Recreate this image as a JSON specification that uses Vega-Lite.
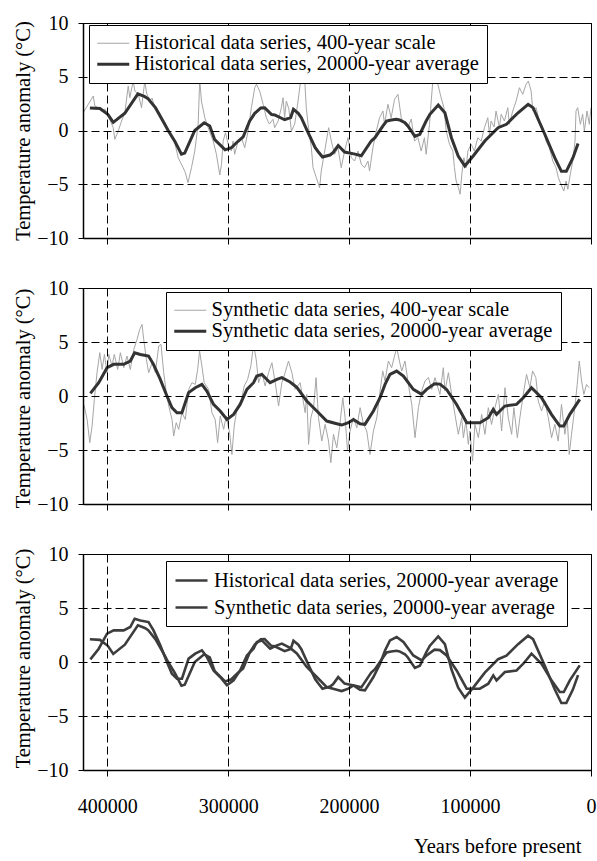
{
"$schema": "https://vega.github.io/schema/vega-lite/v6.json",
"background": "white",
"padding": {"left": 12, "top": 12, "right": 0, "bottom": 0},
"config": {
  "font": "Liberation Serif",
  "view": {"stroke": "black", "strokeWidth": 1},
  "axis": {"labelFont": "Liberation Serif", "titleFont": "Liberation Serif", "labelColor": "black", "titleColor": "black", "domainColor": "black", "domainWidth": 1.5, "tickColor": "black", "gridColor": "black", "gridDash": [8, 4], "gridWidth": 1, "gridOpacity": 1, "labelFontSize": 20, "titleFontSize": 20.5, "titleFontWeight": "normal"}
},
"datasets": {
"h400": [{"yr":419800,"t":1.66},{"yr":415600,"t":2.44},{"yr":411500,"t":3.21},{"yr":410200,"t":2.28},{"yr":407400,"t":2.12},{"yr":404600,"t":1.81},{"yr":401900,"t":2.0},{"yr":399100,"t":1.35},{"yr":395000,"t":0.26},{"yr":393700,"t":-0.82},{"yr":390900,"t":-0.05},{"yr":388100,"t":0.88},{"yr":385400,"t":1.66},{"yr":382600,"t":4.14},{"yr":381300,"t":3.05},{"yr":378500,"t":4.6},{"yr":377100,"t":3.67},{"yr":374300,"t":3.37},{"yr":371600,"t":2.12},{"yr":368900,"t":4.6},{"yr":367500,"t":3.49},{"yr":364800,"t":2.74},{"yr":362900,"t":3.02},{"yr":360600,"t":2.12},{"yr":356700,"t":1.63},{"yr":352400,"t":0.42},{"yr":349600,"t":0.14},{"yr":346800,"t":-0.67},{"yr":344100,"t":-1.16},{"yr":341300,"t":-2.53},{"yr":337200,"t":-3.46},{"yr":335300,"t":-3.95},{"yr":333200,"t":-4.85},{"yr":330300,"t":-3.46},{"yr":327600,"t":-1.91},{"yr":324800,"t":0.58},{"yr":323500,"t":4.76},{"yr":322100,"t":2.74},{"yr":319300,"t":1.19},{"yr":316500,"t":0.26},{"yr":312400,"t":-0.98},{"yr":309700,"t":-2.21},{"yr":306900,"t":-4.14},{"yr":305500,"t":-3.14},{"yr":304100,"t":-0.98},{"yr":302200,"t":-0.2},{"yr":300000,"t":-1.28},{"yr":297300,"t":-1.91},{"yr":295900,"t":-0.98},{"yr":294600,"t":-2.21},{"yr":291800,"t":-0.98},{"yr":289000,"t":-0.67},{"yr":286300,"t":-1.6},{"yr":283500,"t":-0.05},{"yr":280800,"t":2.12},{"yr":278000,"t":3.98},{"yr":276600,"t":4.3},{"yr":273900,"t":3.67},{"yr":271100,"t":2.44},{"yr":268400,"t":1.19},{"yr":265900,"t":0.6},{"yr":262900,"t":1.04},{"yr":261500,"t":0.26},{"yr":258700,"t":0.88},{"yr":256000,"t":2.12},{"yr":254600,"t":3.05},{"yr":253300,"t":1.19},{"yr":251900,"t":2.74},{"yr":249800,"t":2.0},{"yr":247700,"t":-0.05},{"yr":245000,"t":0.58},{"yr":242200,"t":2.74},{"yr":240100,"t":4.6},{"yr":238100,"t":7.39},{"yr":236800,"t":4.91},{"yr":235400,"t":2.12},{"yr":233900,"t":0.58},{"yr":231200,"t":-1.6},{"yr":229800,"t":-3.46},{"yr":227100,"t":-4.39},{"yr":224400,"t":-5.32},{"yr":223000,"t":-3.77},{"yr":221600,"t":-2.84},{"yr":218800,"t":-0.98},{"yr":216900,"t":0.26},{"yr":214700,"t":-0.98},{"yr":212000,"t":-2.21},{"yr":209200,"t":-1.6},{"yr":206500,"t":-3.46},{"yr":203700,"t":-1.91},{"yr":200900,"t":-0.67},{"yr":198200,"t":-2.53},{"yr":195500,"t":-2.84},{"yr":192700,"t":-1.91},{"yr":189900,"t":-3.14},{"yr":187200,"t":-3.46},{"yr":184400,"t":-2.84},{"yr":183100,"t":-3.77},{"yr":180300,"t":-1.6},{"yr":177500,"t":-0.05},{"yr":174800,"t":1.19},{"yr":172000,"t":1.81},{"yr":170700,"t":0.58},{"yr":167900,"t":2.44},{"yr":165200,"t":1.19},{"yr":162400,"t":2.9},{"yr":159600,"t":3.37},{"yr":156900,"t":1.19},{"yr":154200,"t":0.58},{"yr":151400,"t":0.26},{"yr":148600,"t":1.07},{"yr":145900,"t":-0.98},{"yr":143100,"t":-0.67},{"yr":140400,"t":-1.91},{"yr":137700,"t":-0.67},{"yr":136300,"t":-2.21},{"yr":133500,"t":0.58},{"yr":132100,"t":2.74},{"yr":129900,"t":5.84},{"yr":128800,"t":7.39},{"yr":126600,"t":4.3},{"yr":123900,"t":3.05},{"yr":121600,"t":2.12},{"yr":119700,"t":-0.05},{"yr":117000,"t":-1.28},{"yr":114200,"t":-1.91},{"yr":112900,"t":-3.46},{"yr":111500,"t":-4.7},{"yr":109600,"t":-5.32},{"yr":108200,"t":-5.93},{"yr":106800,"t":-4.07},{"yr":105100,"t":-2.53},{"yr":103200,"t":-3.46},{"yr":101800,"t":-1.91},{"yr":99100,"t":-1.28},{"yr":96400,"t":-1.91},{"yr":93600,"t":-0.67},{"yr":90800,"t":-0.98},{"yr":88100,"t":0.26},{"yr":85300,"t":1.19},{"yr":84000,"t":-0.35},{"yr":82600,"t":0.88},{"yr":80100,"t":0.33},{"yr":78500,"t":1.81},{"yr":75700,"t":0.26},{"yr":74300,"t":1.51},{"yr":71600,"t":0.88},{"yr":68800,"t":2.12},{"yr":67500,"t":0.58},{"yr":64700,"t":1.81},{"yr":61900,"t":2.74},{"yr":59200,"t":3.98},{"yr":56400,"t":3.37},{"yr":53700,"t":4.3},{"yr":51800,"t":4.6},{"yr":49500,"t":3.67},{"yr":48100,"t":1.81},{"yr":45400,"t":2.12},{"yr":42700,"t":0.88},{"yr":39900,"t":0.26},{"yr":37200,"t":-0.98},{"yr":34400,"t":-1.6},{"yr":31600,"t":-2.84},{"yr":28900,"t":-3.46},{"yr":27000,"t":-4.39},{"yr":24800,"t":-5.0},{"yr":22500,"t":-5.63},{"yr":20600,"t":-4.7},{"yr":19200,"t":-5.47},{"yr":17100,"t":-4.07},{"yr":15100,"t":-2.84},{"yr":13200,"t":-0.98},{"yr":12400,"t":1.81},{"yr":11000,"t":2.12},{"yr":8800,"t":0.58},{"yr":6900,"t":1.51},{"yr":5500,"t":-0.05},{"yr":3300,"t":1.81},{"yr":1400,"t":0.58},{"yr":0,"t":2.12}],
"h20": [{"yr":414300,"t":2.1},{"yr":406000,"t":2.05},{"yr":399500,"t":1.5},{"yr":395000,"t":0.75},{"yr":385400,"t":1.6},{"yr":374600,"t":3.4},{"yr":368900,"t":3.15},{"yr":366100,"t":2.95},{"yr":360000,"t":2.1},{"yr":352400,"t":0.58},{"yr":349600,"t":0.0},{"yr":344100,"t":-1.0},{"yr":338600,"t":-2.2},{"yr":335900,"t":-2.1},{"yr":327600,"t":0.0},{"yr":319800,"t":0.72},{"yr":315200,"t":0.42},{"yr":311100,"t":-0.85},{"yr":302500,"t":-1.8},{"yr":297300,"t":-1.6},{"yr":294600,"t":-1.3},{"yr":291800,"t":-1.0},{"yr":287600,"t":-0.6},{"yr":282200,"t":0.88},{"yr":278000,"t":1.6},{"yr":273000,"t":2.1},{"yr":269800,"t":2.12},{"yr":264300,"t":1.5},{"yr":261500,"t":1.45},{"yr":253300,"t":1.0},{"yr":248300,"t":1.2},{"yr":246000,"t":1.97},{"yr":242000,"t":1.6},{"yr":239500,"t":1.19},{"yr":234500,"t":-0.05},{"yr":228000,"t":-1.6},{"yr":225700,"t":-1.95},{"yr":222000,"t":-2.47},{"yr":215800,"t":-2.28},{"yr":213300,"t":-2.06},{"yr":209000,"t":-1.4},{"yr":203700,"t":-2.0},{"yr":195100,"t":-2.2},{"yr":189900,"t":-2.35},{"yr":181700,"t":-0.98},{"yr":178600,"t":-0.67},{"yr":172000,"t":0.42},{"yr":169000,"t":0.88},{"yr":165200,"t":0.98},{"yr":160800,"t":1.04},{"yr":158300,"t":0.98},{"yr":153800,"t":0.72},{"yr":151400,"t":0.42},{"yr":145600,"t":-0.55},{"yr":141500,"t":-0.35},{"yr":136300,"t":0.88},{"yr":133200,"t":1.51},{"yr":126300,"t":2.37},{"yr":120800,"t":1.65},{"yr":115400,"t":-0.67},{"yr":109800,"t":-2.37},{"yr":104300,"t":-3.3},{"yr":97400,"t":-2.37},{"yr":87800,"t":-0.98},{"yr":76800,"t":0.26},{"yr":69900,"t":0.58},{"yr":60300,"t":1.65},{"yr":52000,"t":2.44},{"yr":47900,"t":2.12},{"yr":38200,"t":-0.35},{"yr":30000,"t":-2.53},{"yr":24500,"t":-3.8},{"yr":20400,"t":-3.8},{"yr":14900,"t":-2.53},{"yr":10700,"t":-1.21}],
"s400": [{"yr":419300,"t":-0.78},{"yr":416600,"t":-2.17},{"yr":414400,"t":-4.32},{"yr":412500,"t":-2.78},{"yr":410600,"t":-0.31},{"yr":408400,"t":2.16},{"yr":406100,"t":4.01},{"yr":404200,"t":2.46},{"yr":402300,"t":3.85},{"yr":400100,"t":2.16},{"yr":398700,"t":3.85},{"yr":396000,"t":2.78},{"yr":394100,"t":3.85},{"yr":391300,"t":2.46},{"yr":389100,"t":4.01},{"yr":386300,"t":2.62},{"yr":383600,"t":3.7},{"yr":380900,"t":2.46},{"yr":378000,"t":4.32},{"yr":375300,"t":5.24},{"yr":373100,"t":6.17},{"yr":371200,"t":6.63},{"yr":369800,"t":5.24},{"yr":367600,"t":3.39},{"yr":365700,"t":2.16},{"yr":362900,"t":3.08},{"yr":360200,"t":2.16},{"yr":357400,"t":4.63},{"yr":355500,"t":4.78},{"yr":353300,"t":2.16},{"yr":351100,"t":0.31},{"yr":349100,"t":-0.93},{"yr":346400,"t":-2.17},{"yr":345000,"t":-3.7},{"yr":342900,"t":-2.47},{"yr":340900,"t":-3.09},{"yr":338200,"t":-1.55},{"yr":335400,"t":-2.17},{"yr":332600,"t":0.61},{"yr":329900,"t":1.23},{"yr":327200,"t":1.07},{"yr":325200,"t":2.46},{"yr":323600,"t":4.17},{"yr":321700,"t":2.78},{"yr":319800,"t":1.23},{"yr":316100,"t":0.61},{"yr":313400,"t":-1.55},{"yr":310700,"t":-2.17},{"yr":308700,"t":-4.32},{"yr":306500,"t":-1.85},{"yr":303700,"t":-3.09},{"yr":301600,"t":-1.85},{"yr":298800,"t":-3.4},{"yr":296900,"t":-5.41},{"yr":295000,"t":-2.78},{"yr":292800,"t":-1.24},{"yr":290000,"t":-0.93},{"yr":286700,"t":0.93},{"yr":283900,"t":1.54},{"yr":281200,"t":2.78},{"yr":279000,"t":4.78},{"yr":276800,"t":3.39},{"yr":274800,"t":1.23},{"yr":272100,"t":2.16},{"yr":269400,"t":0.93},{"yr":266600,"t":2.16},{"yr":263800,"t":3.08},{"yr":261100,"t":1.23},{"yr":258300,"t":-0.93},{"yr":255600,"t":1.23},{"yr":252900,"t":2.16},{"yr":250100,"t":3.24},{"yr":247300,"t":2.16},{"yr":244600,"t":0.61},{"yr":240500,"t":1.23},{"yr":236300,"t":-1.55},{"yr":235000,"t":0.15},{"yr":233500,"t":-4.48},{"yr":231600,"t":-2.01},{"yr":229400,"t":-1.08},{"yr":227300,"t":1.7},{"yr":225300,"t":-2.01},{"yr":222600,"t":-4.17},{"yr":219800,"t":-2.63},{"yr":217000,"t":-4.17},{"yr":215100,"t":-6.18},{"yr":212900,"t":-3.55},{"yr":210200,"t":-4.79},{"yr":207900,"t":-2.94},{"yr":205200,"t":-0.16},{"yr":203300,"t":-2.01},{"yr":201300,"t":-5.09},{"yr":199200,"t":-3.24},{"yr":196400,"t":-2.01},{"yr":193600,"t":-2.94},{"yr":190900,"t":-1.08},{"yr":188100,"t":-2.63},{"yr":185400,"t":-3.24},{"yr":182700,"t":-5.41},{"yr":179900,"t":-3.24},{"yr":177100,"t":-2.01},{"yr":174400,"t":0.46},{"yr":172200,"t":2.32},{"yr":170300,"t":1.39},{"yr":167500,"t":3.24},{"yr":164800,"t":2.62},{"yr":162800,"t":3.55},{"yr":160600,"t":4.47},{"yr":158400,"t":3.24},{"yr":156500,"t":2.32},{"yr":153800,"t":3.24},{"yr":151000,"t":1.07},{"yr":148200,"t":-0.78},{"yr":145500,"t":-3.86},{"yr":142700,"t":-1.08},{"yr":140000,"t":0.46},{"yr":137200,"t":1.39},{"yr":134400,"t":1.7},{"yr":131700,"t":0.61},{"yr":129000,"t":1.7},{"yr":124900,"t":0.15},{"yr":122100,"t":2.62},{"yr":120700,"t":0.46},{"yr":117900,"t":2.16},{"yr":115200,"t":0.15},{"yr":112500,"t":-1.7},{"yr":109700,"t":-3.55},{"yr":106900,"t":-2.01},{"yr":105500,"t":-3.86},{"yr":103400,"t":-2.32},{"yr":101400,"t":-4.48},{"yr":100100,"t":-3.24},{"yr":97900,"t":-6.02},{"yr":96000,"t":-2.63},{"yr":93100,"t":-3.86},{"yr":90400,"t":-1.7},{"yr":87700,"t":-3.55},{"yr":84900,"t":-1.08},{"yr":82200,"t":-2.63},{"yr":79400,"t":-1.08},{"yr":76600,"t":0.15},{"yr":73900,"t":-3.24},{"yr":71100,"t":0.77},{"yr":68400,"t":-2.01},{"yr":65600,"t":-3.55},{"yr":63800,"t":-1.08},{"yr":60900,"t":-3.86},{"yr":58800,"t":-2.01},{"yr":56000,"t":0.15},{"yr":53300,"t":2.0},{"yr":50500,"t":0.77},{"yr":48300,"t":2.32},{"yr":45600,"t":1.7},{"yr":43600,"t":-0.46},{"yr":40900,"t":-1.39},{"yr":38200,"t":-0.46},{"yr":35300,"t":-2.01},{"yr":32600,"t":-3.86},{"yr":29900,"t":-2.63},{"yr":27100,"t":-4.17},{"yr":24400,"t":-0.78},{"yr":21600,"t":-3.55},{"yr":19700,"t":-2.01},{"yr":18000,"t":-5.41},{"yr":16100,"t":-3.55},{"yr":13400,"t":-1.08},{"yr":11400,"t":1.07},{"yr":9700,"t":3.24},{"yr":7800,"t":1.39},{"yr":5900,"t":0.15},{"yr":3700,"t":1.07},{"yr":1500,"t":0.77}],
"s20": [{"yr":413900,"t":0.24},{"yr":407000,"t":1.23},{"yr":400100,"t":2.62},{"yr":394600,"t":2.93},{"yr":386400,"t":2.93},{"yr":380900,"t":3.24},{"yr":377300,"t":4.01},{"yr":372600,"t":3.85},{"yr":365800,"t":3.7},{"yr":361700,"t":2.93},{"yr":356100,"t":1.54},{"yr":350600,"t":0.0},{"yr":346500,"t":-1.08},{"yr":342300,"t":-1.55},{"yr":338200,"t":-1.55},{"yr":332700,"t":0.31},{"yr":327200,"t":0.77},{"yr":321700,"t":1.08},{"yr":317600,"t":0.46},{"yr":312100,"t":-0.78},{"yr":306600,"t":-1.39},{"yr":301000,"t":-2.16},{"yr":295500,"t":-1.7},{"yr":290100,"t":-0.78},{"yr":284500,"t":0.61},{"yr":279000,"t":1.23},{"yr":276300,"t":1.85},{"yr":272100,"t":2.0},{"yr":265300,"t":1.23},{"yr":259700,"t":1.54},{"yr":255600,"t":1.7},{"yr":248800,"t":1.3},{"yr":243200,"t":0.8},{"yr":235000,"t":-0.46},{"yr":226700,"t":-1.39},{"yr":218500,"t":-2.32},{"yr":210200,"t":-2.57},{"yr":206100,"t":-2.69},{"yr":200600,"t":-2.47},{"yr":196400,"t":-2.17},{"yr":191000,"t":-2.57},{"yr":186900,"t":-2.63},{"yr":179900,"t":-1.39},{"yr":174400,"t":-0.16},{"yr":170300,"t":1.07},{"yr":166200,"t":2.0},{"yr":160700,"t":2.31},{"yr":155100,"t":1.85},{"yr":146900,"t":0.61},{"yr":140000,"t":0.15},{"yr":135900,"t":0.61},{"yr":129400,"t":1.14},{"yr":124900,"t":1.1},{"yr":119400,"t":0.61},{"yr":111100,"t":-0.78},{"yr":102800,"t":-2.47},{"yr":91900,"t":-2.47},{"yr":84900,"t":-2.01},{"yr":80800,"t":-1.24},{"yr":78100,"t":-1.7},{"yr":71200,"t":-0.93},{"yr":61600,"t":-0.78},{"yr":56000,"t":-0.16},{"yr":49200,"t":0.77},{"yr":40900,"t":-0.16},{"yr":32700,"t":-1.7},{"yr":25800,"t":-2.78},{"yr":22500,"t":-2.78},{"yr":17500,"t":-1.7},{"yr":9300,"t":-0.31}]
},
"concat": [
 {
  "width": 508, "height": 215,
  "encoding": {
    "x": {"field": "yr", "type": "quantitative", "scale": {"domain": [0, 420000], "reverse": true, "nice": false, "zero": false},
          "axis": {"values": [400000, 300000, 200000, 100000, 0], "labels": false, "title": null, "grid": true, "tickSize": 6, "zindex": -2}},
    "y": {"field": "t", "type": "quantitative", "scale": {"domain": [-10, 10], "nice": false, "zero": false},
          "axis": {"values": [-10, -5, 0, 5, 10], "labelFont": "Liberation Serif", "labelFontSize": 20, "title": "Temperature anomaly (°C)", "titleFont": "Liberation Serif", "titleX": -60, "titleY": 107.5, "titleAngle": -90, "titleAlign": "center", "titleBaseline": "middle", "labelPadding": 10, "tickSize": 5, "grid": true, "zindex": -2}}
  },
  "layer": [
   {"data": {"name": "h400"}, "mark": {"type": "line", "strokeWidth": 1, "clip": true},
    "encoding": {"color": {"datum": "Historical data series, 400-year scale", "type": "nominal",
      "scale": {"domain": ["Historical data series, 400-year scale", "Historical data series, 20000-year average"], "range": ["#a6a6a6", "#333333"]},
      "legend": {"orient": "none", "legendX": 6, "legendY": 2, "title": null, "direction": "vertical", "strokeColor": "black", "fillColor": "white", "padding": 8, "labelFont": "Liberation Serif", "labelFontSize": 20.5, "labelColor": "black", "labelLimit": 600, "symbolType": "M-1,0H2.2", "symbolSize": 400, "labelOffset": 17, "rowPadding": 0, "zindex": -1,
        "encode": {"symbols": {"update": {"strokeWidth": {"signal": "datum.index === 0 ? 1.2 : 3"}}}}}}}},
   {"data": {"name": "h20"}, "mark": {"type": "line", "strokeWidth": 3},
    "encoding": {"color": {"datum": "Historical data series, 20000-year average", "type": "nominal"}}}
  ]
 },
 {
  "width": 508, "height": 216,
  "encoding": {
    "x": {"field": "yr", "type": "quantitative", "scale": {"domain": [0, 420000], "reverse": true, "nice": false, "zero": false},
          "axis": {"values": [400000, 300000, 200000, 100000, 0], "labels": false, "title": null, "grid": true, "tickSize": 6, "zindex": -2}},
    "y": {"field": "t", "type": "quantitative", "scale": {"domain": [-10, 10], "nice": false, "zero": false},
          "axis": {"values": [-10, -5, 0, 5, 10], "labelFont": "Liberation Serif", "labelFontSize": 20, "title": "Temperature anomaly (°C)", "titleFont": "Liberation Serif", "titleX": -60, "titleY": 110, "titleAngle": -90, "titleAlign": "center", "titleBaseline": "middle", "labelPadding": 10, "tickSize": 5, "grid": true, "zindex": -2}}
  },
  "layer": [
   {"data": {"name": "s400"}, "mark": {"type": "line", "strokeWidth": 1, "clip": true},
    "encoding": {"color": {"datum": "Synthetic data series, 400-year scale", "type": "nominal",
      "scale": {"domain": ["Synthetic data series, 400-year scale", "Synthetic data series, 20000-year average"], "range": ["#a6a6a6", "#333333"]},
      "legend": {"orient": "none", "legendX": 83, "legendY": 4, "title": null, "direction": "vertical", "strokeColor": "black", "fillColor": "white", "padding": 8, "labelFont": "Liberation Serif", "labelFontSize": 20.5, "labelColor": "black", "labelLimit": 600, "symbolType": "M-1,0H2.2", "symbolSize": 400, "labelOffset": 17, "rowPadding": 0, "zindex": -1,
        "encode": {"symbols": {"update": {"strokeWidth": {"signal": "datum.index === 0 ? 1.2 : 3"}}}}}}}},
   {"data": {"name": "s20"}, "mark": {"type": "line", "strokeWidth": 3},
    "encoding": {"color": {"datum": "Synthetic data series, 20000-year average", "type": "nominal"}}}
  ]
 },
 {
  "width": 508, "height": 216,
  "encoding": {
    "x": {"field": "yr", "type": "quantitative", "scale": {"domain": [0, 420000], "reverse": true, "nice": false, "zero": false},
          "axis": {"values": [400000, 300000, 200000, 100000, 0], "format": "d", "labelFont": "Liberation Serif", "labelFontSize": 20, "labelFlush": false, "labelOverlap": false, "labelPadding": 20, "title": "Years before present", "titleFont": "Liberation Serif", "titleX": 498, "titleY": 82, "titleAlign": "right", "titleBaseline": "alphabetic", "grid": true, "tickSize": 6, "zindex": -2}},
    "y": {"field": "t", "type": "quantitative", "scale": {"domain": [-10, 10], "nice": false, "zero": false},
          "axis": {"values": [-10, -5, 0, 5, 10], "labelFont": "Liberation Serif", "labelFontSize": 20, "title": "Temperature anomaly (°C)", "titleFont": "Liberation Serif", "titleX": -60, "titleY": 104, "titleAngle": -90, "titleAlign": "center", "titleBaseline": "middle", "labelPadding": 10, "tickSize": 5, "grid": true, "zindex": -2}}
  },
  "layer": [
   {"data": {"name": "h20"}, "mark": {"type": "line", "strokeWidth": 2.6},
    "encoding": {"color": {"datum": "Historical data series, 20000-year average", "type": "nominal",
      "scale": {"domain": ["Historical data series, 20000-year average", "Synthetic data series, 20000-year average"], "range": ["#3d3d3d", "#3d3d3d"]},
      "legend": {"orient": "none", "legendX": 83, "legendY": 7, "title": null, "direction": "vertical", "strokeColor": "black", "fillColor": "white", "padding": 8, "labelFont": "Liberation Serif", "labelFontSize": 20.5, "labelColor": "black", "labelLimit": 600, "symbolType": "M-1,0H2.2", "symbolSize": 400, "labelOffset": 17, "rowPadding": 5, "zindex": -1,
        "encode": {"symbols": {"update": {"strokeWidth": {"value": 2.6}}}}}}}},
   {"data": {"name": "s20"}, "mark": {"type": "line", "strokeWidth": 2.6},
    "encoding": {"color": {"datum": "Synthetic data series, 20000-year average", "type": "nominal"}}}
  ]
 }
],
"columns": 1,
"bounds": "full",
"spacing": 28,
"resolve": {"scale": {"color": "independent", "x": "independent", "y": "independent"}, "legend": {"color": "independent"}, "axis": {"x": "independent", "y": "independent"}}
}
